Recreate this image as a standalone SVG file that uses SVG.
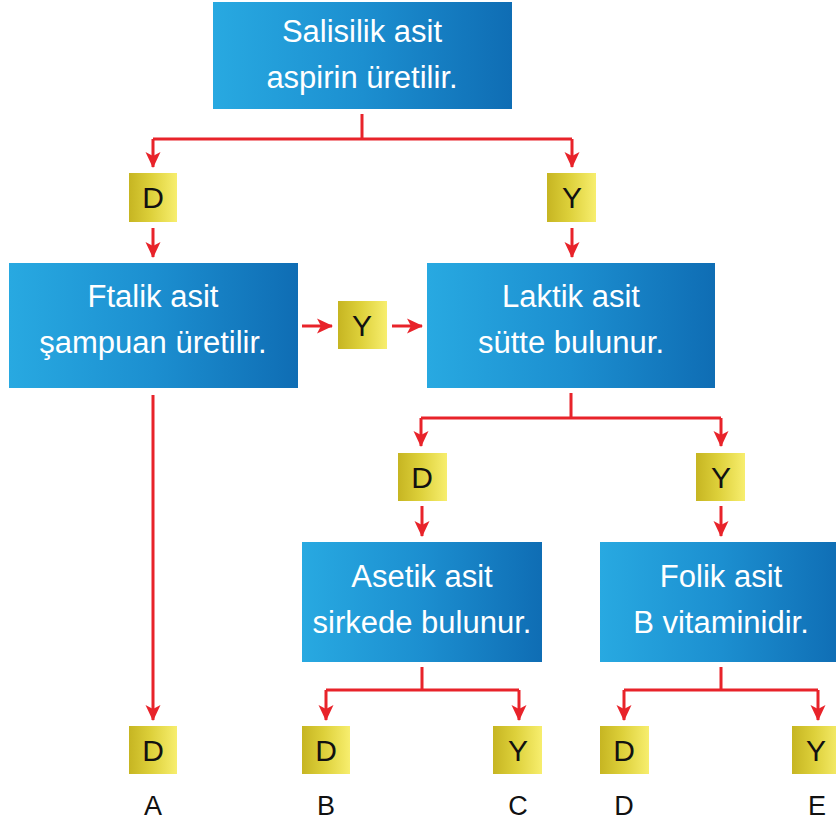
<svg xmlns="http://www.w3.org/2000/svg" width="836" height="823" viewBox="0 0 836 823">
<defs>
<linearGradient id="blue" x1="0" y1="0" x2="1" y2="0">
<stop offset="0" stop-color="#28a9e1"/>
<stop offset="0.5" stop-color="#1c8fd0"/>
<stop offset="1" stop-color="#0f6db4"/>
</linearGradient>
<linearGradient id="yel" x1="0" y1="0" x2="1" y2="0">
<stop offset="0" stop-color="#c6b522"/>
<stop offset="0.45" stop-color="#ddd03a"/>
<stop offset="1" stop-color="#f7ee6e"/>
</linearGradient>
<marker id="ah" markerUnits="userSpaceOnUse" markerWidth="16" markerHeight="16" viewBox="0 0 16 16" refX="15" refY="8" orient="auto">
<path d="M0,0.5 L16,8 L0,15.5 L4,8 Z" fill="#e8232a"/>
</marker>
<style>
.box{fill:url(#blue)}
.yb{fill:url(#yel)}
.bt{font-family:"Liberation Sans",Arial,sans-serif;font-size:31px;fill:#ffffff;text-anchor:middle}
.yt{font-family:"Liberation Sans",Arial,sans-serif;font-size:30px;fill:#111111;text-anchor:middle}
.lt{font-family:"Liberation Sans",Arial,sans-serif;font-size:27px;fill:#111111;text-anchor:middle}
.ln{fill:none;stroke:#e8232a;stroke-width:3}
.ar{fill:none;stroke:#e8232a;stroke-width:3;marker-end:url(#ah)}
</style>
</defs>
<rect width="836" height="823" fill="#ffffff"/>

<g id="connectors">
<path class="ln" d="M362,114 V139"/>
<path class="ar" d="M153,139 H572 M153,139 V167"/>
<path class="ar" d="M572,139 V167"/>
<path class="ar" d="M153,228 V257"/>
<path class="ar" d="M572,228 V257"/>
<path class="ar" d="M302,326 H332"/>
<path class="ar" d="M392,326 H422"/>
<path class="ln" d="M571,393 V418 M421,418 H721"/>
<path class="ar" d="M421,418 V446"/>
<path class="ar" d="M721,418 V446"/>
<path class="ar" d="M422,506 V536"/>
<path class="ar" d="M721,506 V536"/>
<path class="ar" d="M153,395 V720"/>
<path class="ln" d="M422,667 V690 M326,690 H519"/>
<path class="ar" d="M326,690 V720"/>
<path class="ar" d="M519,690 V720"/>
<path class="ln" d="M721,667 V690 M624,690 H818"/>
<path class="ar" d="M624,690 V720"/>
<path class="ar" d="M818,690 V720"/>
</g>

<g id="salisilik">
<rect class="box" x="213" y="2" width="299" height="107"/>
<text class="bt" x="362" y="42">Salisilik asit</text>
<text class="bt" x="362" y="88">aspirin üretilir.</text>
</g>
<g id="d1"><rect class="yb" x="129" y="173" width="48" height="49"/><text class="yt" x="153" y="208">D</text></g>
<g id="y1"><rect class="yb" x="547" y="173" width="49" height="49"/><text class="yt" x="572" y="208">Y</text></g>

<g id="ftalik">
<rect class="box" x="9" y="263" width="289" height="125"/>
<text class="bt" x="153" y="307">Ftalik asit</text>
<text class="bt" x="153" y="353">şampuan üretilir.</text>
</g>
<g id="y2"><rect class="yb" x="338" y="301" width="49" height="48"/><text class="yt" x="362" y="336">Y</text></g>
<g id="laktik">
<rect class="box" x="427" y="263" width="288" height="125"/>
<text class="bt" x="571" y="307">Laktik asit</text>
<text class="bt" x="571" y="353">sütte bulunur.</text>
</g>

<g id="d3"><rect class="yb" x="398" y="453" width="49" height="48"/><text class="yt" x="422" y="488">D</text></g>
<g id="y3"><rect class="yb" x="696" y="453" width="49" height="48"/><text class="yt" x="721" y="488">Y</text></g>

<g id="asetik">
<rect class="box" x="302" y="542" width="240" height="120"/>
<text class="bt" x="422" y="587">Asetik asit</text>
<text class="bt" x="422" y="633">sirkede bulunur.</text>
</g>
<g id="folik">
<rect class="box" x="600" y="542" width="242" height="120"/>
<text class="bt" x="721" y="587">Folik asit</text>
<text class="bt" x="721" y="633">B vitaminidir.</text>
</g>

<g id="dA"><rect class="yb" x="129" y="726" width="48" height="48"/><text class="yt" x="153" y="761">D</text></g>
<g id="dB"><rect class="yb" x="302" y="726" width="48" height="48"/><text class="yt" x="326" y="761">D</text></g>
<g id="yC"><rect class="yb" x="493" y="726" width="49" height="48"/><text class="yt" x="518" y="761">Y</text></g>
<g id="dD"><rect class="yb" x="600" y="726" width="49" height="48"/><text class="yt" x="624" y="761">D</text></g>
<g id="yE"><rect class="yb" x="792" y="726" width="49" height="48"/><text class="yt" x="816" y="761">Y</text></g>

<g id="labels">
<text class="lt" x="153" y="815">A</text>
<text class="lt" x="326" y="815">B</text>
<text class="lt" x="518" y="815">C</text>
<text class="lt" x="624" y="815">D</text>
<text class="lt" x="817" y="815">E</text>
</g>
</svg>
